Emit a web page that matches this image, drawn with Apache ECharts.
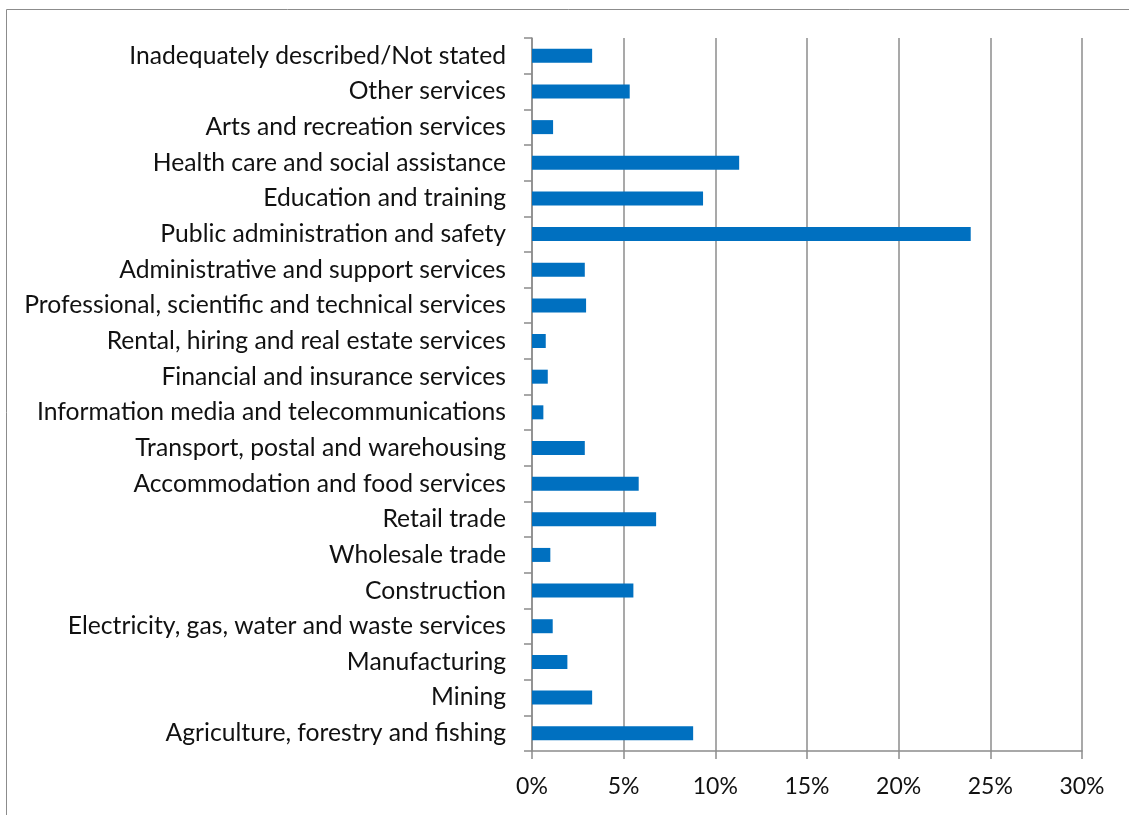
<!DOCTYPE html>
<html>
<head>
<meta charset="utf-8">
<script src="https://cdn.jsdelivr.net/npm/echarts@6/dist/echarts.min.js"></script>
<style>
  html, body { margin: 0; padding: 0; background: #fff; }
  #chart { width: 1129px; height: 815px; }
</style>
</head>
<body>
<div id="chart"></div>
<script>
// Industry categories, listed bottom to top as they appear on the axis
const industries = [
  'Agriculture, forestry and fishing',
  'Mining',
  'Manufacturing',
  'Electricity, gas, water and waste services',
  'Construction',
  'Wholesale trade',
  'Retail trade',
  'Accommodation and food services',
  'Transport, postal and warehousing',
  'Information media and telecommunications',
  'Financial and insurance services',
  'Rental, hiring and real estate services',
  'Professional, scientific and technical services',
  'Administrative and support services',
  'Public administration and safety',
  'Education and training',
  'Health care and social assistance',
  'Arts and recreation services',
  'Other services',
  'Inadequately described/Not stated'
];

// Share of employment (%) per industry
const shares = [
  8.79, 3.28, 1.93, 1.13, 5.53, 1.0, 6.77, 5.82, 2.88, 0.62,
  0.86, 0.75, 2.95, 2.88, 23.93, 9.33, 11.3, 1.15, 5.33, 3.28
];

// Value-axis ticks
const xMin = 0, xMax = 30, xStep = 5;

const FONT = 'Lato';
const GRID_GRAY = '#8c8c8c';

const chart = echarts.init(document.getElementById('chart'));
chart.setOption({
  animation: false,
  backgroundColor: '#ffffff',
  graphic: [{
    type: 'rect',
    shape: { x: 6.5, y: 9.5, width: 1200, height: 900 },
    style: { fill: 'none', stroke: '#8c8c8c', lineWidth: 1 }
  }],
  grid: { left: 532, right: 47, top: 38, bottom: 64, containLabel: false },
  xAxis: {
    type: 'value',
    min: xMin, max: xMax, interval: xStep,
    axisLine: { show: true, lineStyle: { color: GRID_GRAY, width: 1.5 } },
    axisTick: { show: true, length: 8, lineStyle: { color: GRID_GRAY, width: 1.5 } },
    splitLine: { show: true, lineStyle: { color: GRID_GRAY, width: 1.5 } },
    axisLabel: {
      formatter: '{value}%', margin: 24,
      fontFamily: FONT, fontSize: 23, color: '#111'
    }
  },
  yAxis: {
    type: 'category',
    data: industries,
    axisLine: { show: true, lineStyle: { color: GRID_GRAY, width: 1.5 } },
    axisTick: { show: true, length: 8, alignWithLabel: false, lineStyle: { color: GRID_GRAY, width: 1.5 } },
    axisLabel: {
      margin: 26, interval: 0,
      fontFamily: FONT, fontSize: 24.7, color: '#111'
    },
    splitLine: { show: false }
  },
  series: [{
    type: 'bar',
    data: shares,
    barWidth: 14,
    itemStyle: { color: '#0070c0' }
  }]
});
</script>
</body>
</html>
